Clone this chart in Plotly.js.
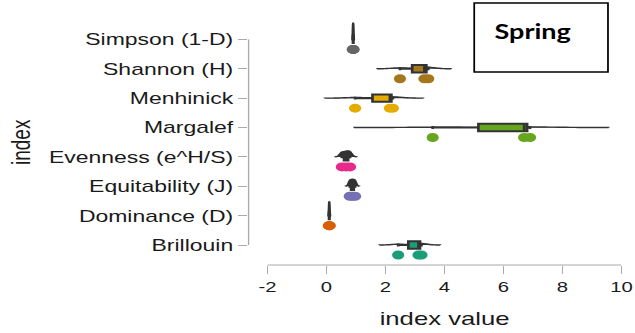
<!DOCTYPE html>
<html><head><meta charset="utf-8">
<script src="https://cdn.plot.ly/plotly-3.0.1.min.js"></script>
<style>
html,body{margin:0;padding:0;background:#fff;overflow:hidden;}
#wrap{width:635px;height:333px;overflow:hidden;position:relative;}
#chart{width:470px;height:333px;transform:scaleX(1.351064);transform-origin:0 0;}
</style></head>
<body><div id="wrap"><div id="chart"></div></div>
<script>
// ---- data ----
const indices = ["Simpson (1-D)", "Shannon (H)", "Menhinick", "Margalef",
                 "Evenness (e^H/S)", "Equitability (J)", "Dominance (D)", "Brillouin"];
const simpson      = [0.89, 0.905, 0.92];
const shannon      = [2.49, 3.32, 3.45];
const menhinick    = [0.97, 2.15, 2.25];
const margalef     = [3.6, 6.7, 6.9];
const evenness     = [0.52, 0.67, 0.80];
const equitability = [0.79, 0.88, 0.97];
const dominance    = [0.08, 0.095, 0.11];
const brillouin    = [2.43, 3.12, 3.22];
const xTickVals = [-2, 0, 2, 4, 6, 8, 10];
const xTickText = ["-2", "0", "2", "4", "6", "8", "10"];
const panelLabel = "Spring";

// ---- styles ----
const series = [simpson, shannon, menhinick, margalef, evenness, equitability, dominance, brillouin];
const colors = ["#666666", "#A6761D", "#E6AB02", "#66A61E", "#E7298A", "#7570B3", "#D95F02", "#1B9E77"];
const slabWidth = [1.12, 0.12, 0.09, 0.04, 0.41, 0.48, 0.95, 0.12];
const dark = "#333333";
const axisGray = "#aaaaaa";
const W = 470, H = 333;
const M = {l: 184, r: 10, t: 20, b: 68};
const PW = W - M.l - M.r, PH = H - M.t - M.b;
const px2paperX = p => (p - M.l) / PW;
const px2paperY = p => (H - M.b - p) / PH;

// R-style nrd0 bandwidth and type-7 quartiles
function q7(v, p) {
  const a = [...v].sort((x, y) => x - y);
  const h = (a.length - 1) * p, lo = Math.floor(h);
  const hi = Math.min(lo + 1, a.length - 1);
  return a[lo] + (h - lo) * (a[hi] - a[lo]);
}
function nrd0(v) {
  const n = v.length, m = v.reduce((s, x) => s + x, 0) / n;
  const sd = Math.sqrt(v.reduce((s, x) => s + (x - m) * (x - m), 0) / (n - 1));
  const iqr = q7(v, 0.75) - q7(v, 0.25);
  let lo = Math.min(sd, iqr / 1.34);
  if (!(lo > 0)) lo = sd || 1;
  return 0.9 * lo * Math.pow(n, -0.2);
}

const traces = [];
series.forEach((vals, i) => {
  const pos = indices.length - i;
  const bw = nrd0(vals);
  traces.push({
    type: "violin", orientation: "h", x: vals, y0: pos, side: "positive",
    bandwidth: bw, spanmode: "manual",
    span: [Math.min(...vals) - 3 * bw, Math.max(...vals) + 3 * bw],
    width: slabWidth[i], scalegroup: "g" + i, scalemode: "width",
    fillcolor: dark, line: {color: dark, width: 1.4},
    points: false, box: {visible: false}, meanline: {visible: false},
    hoverinfo: "skip", showlegend: false
  });
});
series.forEach((vals, i) => {
  const pos = indices.length - i;
  traces.push({
    type: "box", orientation: "h", x: vals, y0: pos, width: 0.25,
    quartilemethod: "inclusive", boxpoints: false, whiskerwidth: 0.4,
    fillcolor: colors[i], line: {color: dark, width: 2},
    hoverinfo: "skip", showlegend: false
  });
});
series.forEach((vals, i) => {
  const pos = indices.length - i;
  traces.push({
    type: "scatter", mode: "markers", x: vals, y: vals.map(() => pos - 0.34),
    marker: {color: colors[i], size: 9, line: {width: 0}},
    hoverinfo: "skip", showlegend: false
  });
});

const font = "Liberation Sans, Arial, sans-serif";
const layout = {
  width: W, height: H, margin: M,
  paper_bgcolor: "#fff", plot_bgcolor: "#fff",
  showlegend: false, violinmode: "overlay", boxmode: "overlay",
  xaxis: {
    range: [-2.64, 10.0], tickvals: xTickVals, ticktext: xTickText,
    ticks: "outside", ticklen: 8, tickcolor: axisGray, tickwidth: 1,
    showline: false, zeroline: false, showgrid: false,
    tickfont: {family: font, size: 15, color: "#1a1a1a"}
  },
  yaxis: {
    range: [0.32, 8.66], tickvals: indices.map((_, i) => indices.length - i), ticktext: indices,
    ticks: "outside", ticklen: 7, tickcolor: axisGray, tickwidth: 1,
    showline: false, zeroline: false, showgrid: false,
    tickfont: {family: font, size: 17, color: "#1a1a1a"}
  },
  shapes: [
    {type: "line", xref: "x", yref: "paper", x0: xTickVals[0], x1: xTickVals[xTickVals.length - 1], y0: 0, y1: 0,
     line: {color: axisGray, width: 1}},
    {type: "line", xref: "paper", yref: "y", x0: 0, x1: 0, y0: 1, y1: indices.length,
     line: {color: axisGray, width: 1}},
    {type: "rect", xref: "paper", yref: "paper",
     x0: px2paperX(351), x1: px2paperX(450), y0: px2paperY(72), y1: px2paperY(3),
     line: {color: "#000", width: 1.3}, fillcolor: "rgba(0,0,0,0)"}
  ],
  annotations: [
    {text: "index value", xref: "x", yref: "paper", x: 4, y: px2paperY(318),
     xanchor: "center", yanchor: "middle", showarrow: false,
     font: {family: font, size: 19, color: "#1a1a1a"}},
    {text: "index", xref: "paper", yref: "paper", x: px2paperX(15), y: px2paperY(142),
     xanchor: "center", yanchor: "middle", textangle: -90, showarrow: false,
     font: {family: font, size: 19, color: "#1a1a1a"}},
    {text: "<b>" + panelLabel + "</b>", xref: "paper", yref: "paper", x: px2paperX(394), y: px2paperY(31),
     xanchor: "center", yanchor: "middle", showarrow: false,
     font: {family: "Lato, Noto Sans, sans-serif", size: 20, color: "#000"}}
  ]
};
Plotly.newPlot("chart", traces, layout, {staticPlot: true, displayModeBar: false});
</script>
</body></html>
